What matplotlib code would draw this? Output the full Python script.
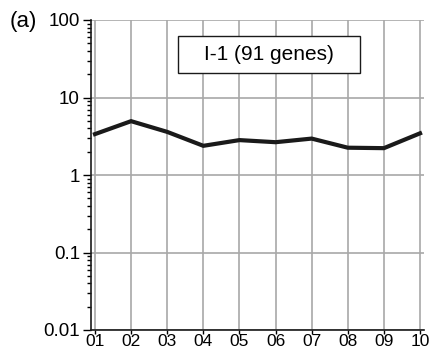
import numpy as np
import matplotlib
matplotlib.use("Agg")
import matplotlib.pyplot as plt
from matplotlib.patches import Rectangle
from matplotlib.ticker import LogLocator, NullFormatter

plt.rcParams['font.family'] = ['Liberation Sans', 'DejaVu Sans']

samples = ['01', '02', '03', '04', '05', '06', '07', '08', '09', '10']
values = [3.37, 4.95, 3.6, 2.38, 2.82, 2.65, 2.95, 2.25, 2.22, 3.45]
ytick_vals = [0.01, 0.1, 1, 10, 100]
ytick_labels = ['0.01', '0.1', '1', '10', '100']
label = 'I-1 (91 genes)'

fig = plt.figure(figsize=(4.29, 3.52), dpi=100)
ax = fig.add_axes([91/429, 1 - 330/352, 333/429, 310/352])

x = np.arange(1, len(samples) + 1)
ax.plot(x, values, color='#1a1a1a', lw=3, solid_joinstyle='miter', zorder=3)

ax.set_yscale('log')
ax.set_ylim(0.01, 100)
ax.set_xlim(0.89, 10.11)
ax.set_yticks(ytick_vals)
ax.set_yticklabels(ytick_labels)
ax.yaxis.set_minor_locator(LogLocator(base=10, subs=np.arange(2, 10)))
ax.yaxis.set_minor_formatter(NullFormatter())
ax.set_xticks(x)
ax.set_xticklabels(samples)

ax.grid(True, which='major', color='#a8a8a8', lw=1.2)
ax.tick_params(axis='y', which='major', length=6, width=1, labelsize=13.5, pad=2)
ax.tick_params(axis='y', which='minor', length=3, width=1)
ax.tick_params(axis='x', which='major', length=3, width=1, labelsize=12.5, pad=0)

for s in ['top', 'right']:
    ax.spines[s].set_visible(False)
for s in ['left', 'bottom']:
    ax.spines[s].set_linewidth(1.2)
    ax.spines[s].set_color('#1a1a1a')

# label box
ax.add_patch(Rectangle((0.261, 0.830), 0.547, 0.119, transform=ax.transAxes,
                       fc='white', ec='#1a1a1a', lw=1, zorder=4))
ax.text(0.535, 0.889, label, transform=ax.transAxes, ha='center', va='center',
        fontsize=15, zorder=5)

fig.text(10/429, 1 - 22/352, '(a)', fontsize=16, ha='left', va='center')

fig.savefig('out.png', dpi=100)
